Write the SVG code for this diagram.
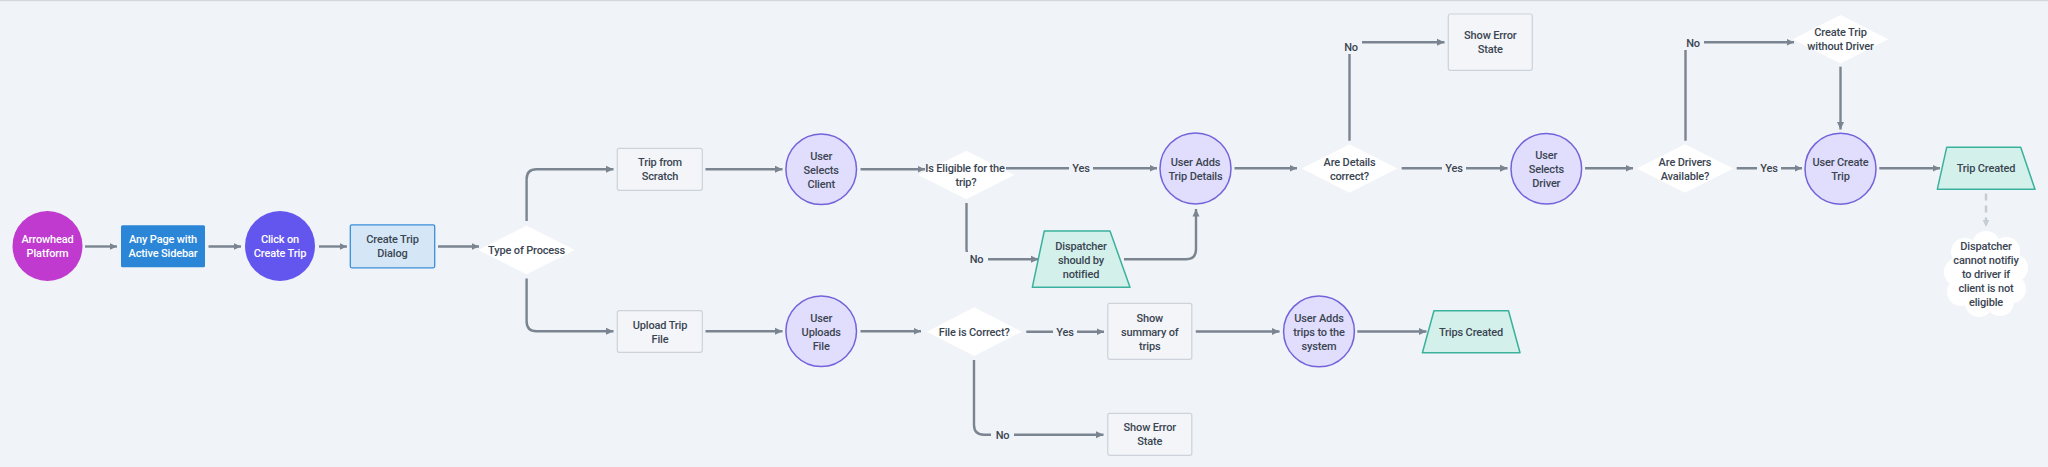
<svg xmlns="http://www.w3.org/2000/svg" width="2048" height="467" viewBox="0 0 2048 467">
  <style>
    text { font-family: Roboto, "Noto Sans", "Liberation Sans", sans-serif; font-size: 11px; font-weight: 500; fill: #3B4552; text-anchor: middle; letter-spacing: -0.15px; }
    text.light { fill: #FFFFFF; }
    .box { fill: #F3F5F8; stroke: #CDD3DA; stroke-width: 1.2; }
    .act { fill: #E1DDFC; stroke: #7363DB; stroke-width: 1.5; }
    .term { fill: #D3F1EA; stroke: #3AB19C; stroke-width: 1.5; stroke-linejoin: round; }
    .dec { fill: #FFFFFF; }
    .edge { fill: none; stroke: #7A8591; stroke-width: 2.4; marker-end: url(#arr); }
    .dash { fill: none; stroke: #C6CCD3; stroke-width: 2.4; stroke-dasharray: 7 5; marker-end: url(#arrl); }
    .lblbg { fill: #F0F3F7; }
  </style>
  <defs>
    <marker id="arr" markerUnits="userSpaceOnUse" markerWidth="8" markerHeight="8" refX="7.5" refY="4" orient="auto">
      <path d="M0,0.5 L7.5,4 L0,7.5 z" fill="#7A8591"/>
    </marker>
    <marker id="arrl" markerUnits="userSpaceOnUse" markerWidth="8" markerHeight="8" refX="7.5" refY="4" orient="auto">
      <path d="M0,0.5 L7.5,4 L0,7.5 z" fill="#C6CCD3"/>
    </marker>
  </defs>

  <rect x="0" y="0" width="2048" height="467" fill="#F0F3F7"/>
  <rect x="0" y="0" width="2048" height="1.2" fill="#D3D8DE"/>

  <!-- connectors -->
  <g id="connectors">
    <path class="edge" d="M85,246.5 H117"/>
    <path class="edge" d="M208.5,246.5 H241"/>
    <path class="edge" d="M319,246.5 H347"/>
    <path class="edge" d="M438,246.5 H479"/>
    <path class="edge" d="M526.6,221 V179.3 Q526.6,169.3 536.6,169.3 H613.5"/>
    <path class="edge" d="M705.5,169.3 H782.5"/>
    <path class="edge" d="M860.5,169.3 H925"/>
    <path class="edge" d="M526.6,278.5 V321.3 Q526.6,331.3 536.6,331.3 H613.5"/>
    <path class="edge" d="M705.5,331.3 H782.5"/>
    <path class="edge" d="M860.5,331.3 H921"/>
    <path class="edge" d="M1006,168.3 H1157"/>
    <path class="edge" d="M966.5,203 V249.3 Q966.5,259.3 976.5,259.3 H1038.5"/>
    <path class="edge" d="M1124,259.3 H1186 Q1196,259.3 1196,249.3 V209"/>
    <path class="edge" d="M1234.5,168.3 H1297"/>
    <path class="edge" d="M1349.5,140.7 V42.3 H1444.5"/>
    <path class="edge" d="M1401.7,168.3 H1507.5"/>
    <path class="edge" d="M1585,168.3 H1633"/>
    <path class="edge" d="M1685.5,140.7 V42.3 H1794"/>
    <path class="edge" d="M1840.5,66.7 V129.5"/>
    <path class="edge" d="M1736.7,168.3 H1802"/>
    <path class="edge" d="M1879.3,168.3 H1940"/>
    <path class="dash" d="M1986,193.5 V227"/>
    <path class="edge" d="M1026.3,331.7 H1104"/>
    <path class="edge" d="M1195.8,331.5 H1279.5"/>
    <path class="edge" d="M1357.3,331.5 H1426.5"/>
    <path class="edge" d="M974,360 V424.7 Q974,434.7 984,434.7 H1103.5"/>

    <!-- branch labels -->
    <rect class="lblbg" x="1069" y="161" width="24" height="14"/>
    <text x="1081" y="172.3">Yes</text>
    <rect class="lblbg" x="965" y="252" width="23" height="14"/>
    <text x="976.5" y="263.3">No</text>
    <rect class="lblbg" x="1340" y="38" width="22" height="16"/>
    <text x="1351" y="50.5">No</text>
    <rect class="lblbg" x="1442" y="161" width="24" height="14"/>
    <text x="1454" y="172.3">Yes</text>
    <rect class="lblbg" x="1682" y="35" width="22" height="15"/>
    <text x="1693" y="46.5">No</text>
    <rect class="lblbg" x="1757" y="161" width="24" height="14"/>
    <text x="1769" y="172.3">Yes</text>
    <rect class="lblbg" x="1053" y="324.5" width="24" height="14"/>
    <text x="1065" y="335.7">Yes</text>
    <rect class="lblbg" x="991" y="427.5" width="23" height="14"/>
    <text x="1002.5" y="438.7">No</text>
  </g>

  <!-- nodes -->
  <g id="arrowhead-platform">
    <circle cx="47.5" cy="246" r="35" fill="#C03ACF"/>
    <text class="light" x="47.5" y="243.3">Arrowhead<tspan x="47.5" dy="14">Platform</tspan></text>
  </g>
  <g id="any-page">
    <rect x="121" y="225.3" width="84" height="42" rx="1.5" fill="#2B86D8"/>
    <text class="light" x="163" y="243.3">Any Page with<tspan x="163" dy="14">Active Sidebar</tspan></text>
  </g>
  <g id="click-create-trip">
    <circle cx="280" cy="246" r="35" fill="#6356EE"/>
    <text class="light" x="280" y="243.3">Click on<tspan x="280" dy="14">Create Trip</tspan></text>
  </g>
  <g id="create-trip-dialog">
    <rect x="350.3" y="224.8" width="84.4" height="43" rx="1.5" fill="#D5E7F7" stroke="#3B8EDB" stroke-width="1.3"/>
    <text x="392.5" y="243.3">Create Trip<tspan x="392.5" dy="14">Dialog</tspan></text>
  </g>
  <g id="type-of-process">
    <polygon class="dec" points="478.4,250 526.6,225.7 574.8,250 526.6,274.3"/>
    <text x="526.6" y="254">Type of Process</text>
  </g>
  <g id="trip-from-scratch">
    <rect class="box" x="617.3" y="148.3" width="85" height="42" rx="2"/>
    <text x="660" y="166.3">Trip from<tspan x="660" dy="14">Scratch</tspan></text>
  </g>
  <g id="upload-trip-file">
    <rect class="box" x="617.3" y="310.7" width="85" height="41.6" rx="2"/>
    <text x="660" y="328.5">Upload Trip<tspan x="660" dy="14">File</tspan></text>
  </g>
  <g id="user-selects-client">
    <circle class="act" cx="821.2" cy="169.2" r="35.3"/>
    <text x="821.2" y="159.5">User<tspan x="821.2" dy="14">Selects</tspan><tspan x="821.2" dy="14">Client</tspan></text>
  </g>
  <g id="user-uploads-file">
    <circle class="act" cx="821.2" cy="331.3" r="35.3"/>
    <text x="821.2" y="321.5">User<tspan x="821.2" dy="14">Uploads</tspan><tspan x="821.2" dy="14">File</tspan></text>
  </g>
  <g id="is-eligible">
    <polygon class="dec" points="918.3,175 966.3,150.7 1014.3,175 966.3,199.3"/>
    <text x="965" y="172.3">Is Eligible for the<tspan x="966" dy="14">trip?</tspan></text>
  </g>
  <g id="dispatcher-notified">
    <polygon class="term" points="1044.3,231 1110,231 1130,287.3 1032.3,287.3"/>
    <text x="1081" y="250">Dispatcher<tspan x="1081" dy="14">should by</tspan><tspan x="1081" dy="14">notified</tspan></text>
  </g>
  <g id="user-adds-trip-details">
    <circle class="act" cx="1195.5" cy="168.4" r="35.5"/>
    <text x="1195.5" y="165.6">User Adds<tspan x="1195.5" dy="14">Trip Details</tspan></text>
  </g>
  <g id="are-details-correct">
    <polygon class="dec" points="1301.7,168.5 1349.5,144.3 1397.3,168.5 1349.5,192.7"/>
    <text x="1349.5" y="165.7">Are Details<tspan x="1349.5" dy="14">correct?</tspan></text>
  </g>
  <g id="show-error-top">
    <rect class="box" x="1448.3" y="14" width="84" height="56.3" rx="2"/>
    <text x="1490.3" y="39">Show Error<tspan x="1490.3" dy="14">State</tspan></text>
  </g>
  <g id="user-selects-driver">
    <circle class="act" cx="1546.3" cy="168.7" r="35.3"/>
    <text x="1546.3" y="158.7">User<tspan x="1546.3" dy="14">Selects</tspan><tspan x="1546.3" dy="14">Driver</tspan></text>
  </g>
  <g id="are-drivers-available">
    <polygon class="dec" points="1636.7,168.5 1685,144.3 1733.3,168.5 1685,192.7"/>
    <text x="1685" y="165.7">Are Drivers<tspan x="1685" dy="14">Available?</tspan></text>
  </g>
  <g id="create-trip-without-driver">
    <polygon class="dec" points="1792.7,39.2 1840.5,15 1888.3,39.2 1840.5,63.4"/>
    <text x="1840.5" y="36.3">Create Trip<tspan x="1840.5" dy="14">without Driver</tspan></text>
  </g>
  <g id="user-create-trip">
    <circle class="act" cx="1840.5" cy="168.7" r="35.5"/>
    <text x="1840.5" y="165.7">User Create<tspan x="1840.5" dy="14">Trip</tspan></text>
  </g>
  <g id="trip-created">
    <polygon class="term" points="1946.7,147.3 2020.7,147.3 2035,189.3 1937.3,189.3"/>
    <text x="1986" y="172.3">Trip Created</text>
  </g>
  <g id="dispatcher-note">
    <g fill="#FFFFFF">
      <circle cx="1986" cy="274" r="34"/>
      <circle cx="1986" cy="245" r="14"/>
      <circle cx="2006" cy="251" r="14"/>
      <circle cx="2014" cy="268" r="14"/>
      <circle cx="2012" cy="289" r="14"/>
      <circle cx="2000" cy="302" r="14"/>
      <circle cx="1979" cy="303" r="14"/>
      <circle cx="1961" cy="292" r="14"/>
      <circle cx="1958" cy="272" r="14"/>
      <circle cx="1965" cy="252" r="14"/>
    </g>
    <text x="1986" y="250">Dispatcher<tspan x="1986" dy="14">cannot notifiy</tspan><tspan x="1986" dy="14">to driver if</tspan><tspan x="1986" dy="14">client is not</tspan><tspan x="1986" dy="14">eligible</tspan></text>
  </g>
  <g id="file-is-correct">
    <polygon class="dec" points="926.8,331.7 974.2,307.3 1021.7,331.7 974.2,356"/>
    <text x="974.2" y="335.7">File is Correct?</text>
  </g>
  <g id="show-summary">
    <rect class="box" x="1107.8" y="303.3" width="84" height="56" rx="2"/>
    <text x="1149.8" y="321.7">Show<tspan x="1149.8" dy="14">summary of</tspan><tspan x="1149.8" dy="14">trips</tspan></text>
  </g>
  <g id="show-error-bottom">
    <rect class="box" x="1107.8" y="413.3" width="84" height="42" rx="2"/>
    <text x="1149.8" y="431.2">Show Error<tspan x="1149.8" dy="14">State</tspan></text>
  </g>
  <g id="user-adds-trips">
    <circle class="act" cx="1319" cy="331.4" r="35.4"/>
    <text x="1319" y="321.6">User Adds<tspan x="1319" dy="14">trips to the</tspan><tspan x="1319" dy="14">system</tspan></text>
  </g>
  <g id="trips-created">
    <polygon class="term" points="1434,310.7 1508.5,310.7 1520,352.7 1422.4,352.7"/>
    <text x="1471" y="335.7">Trips Created</text>
  </g>
</svg>
